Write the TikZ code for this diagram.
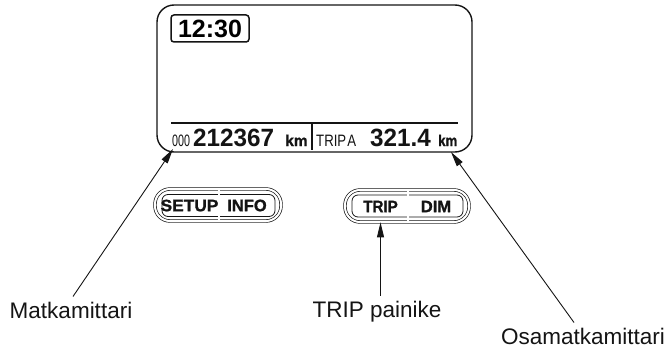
\documentclass[tikz,border=0pt]{standalone}
\usepackage{fontspec}
\setmainfont{Liberation Sans}
\newfontfamily\keyfont[FakeBold=1.2]{Liberation Sans Bold}
\usetikzlibrary{arrows.meta}
\definecolor{PanelInk}{HTML}{141414}
\newcommand\squeeze[2]{\scalebox{#1}[1]{#2}}

\tikzset{
  screen/.style={draw=PanelInk,line width=1.4pt,rounded corners=17pt,
    minimum width=315pt,minimum height=147pt},
  clockbox/.style={draw=PanelInk,line width=1.5pt,rounded corners=3pt,
    minimum width=78pt,minimum height=27pt,inner sep=0pt,
    font=\bfseries\fontsize{25}{25}\selectfont},
  lcdsmall/.style={anchor=base west,inner sep=0pt,text=PanelInk,
    font=\fontsize{16.5}{17}\selectfont},
  lcdbig/.style={anchor=base west,inner sep=0pt,text=PanelInk,
    font=\bfseries\fontsize{25}{26}\selectfont},
  lcdunit/.style={anchor=base west,inner sep=0pt,text=PanelInk,
    font=\keyfont\fontsize{15.5}{16}\selectfont},
  pill/.style={draw=PanelInk,double,double distance=2pt,line width=0.7pt,
    rounded corners=15pt,minimum height=32pt,inner sep=0pt},
  pillin/.style={draw=PanelInk,line width=0.8pt,rounded corners=6pt,
    minimum height=22pt,inner sep=0pt},
  keyline/.style={draw=PanelInk,double,double distance=1.5pt,line width=0.6pt},
  keytext/.style={inner sep=0pt,text=PanelInk,font=\keyfont\fontsize{16.5}{17}\selectfont},
  callout/.style={text=PanelInk,inner sep=5pt,anchor=base,
    font=\fontsize{22.5}{27}\selectfont},
  pointer/.style={draw=PanelInk,line width=0.9pt,-{Triangle[length=15pt,width=7pt]}}
}

\begin{document}
\begin{tikzpicture}[x=1pt,y=-1pt]
  \useasboundingbox (0,0) rectangle (668,350);

  % display
  \node[screen] (screen) at (314.5,78.5) {};
  \node[clockbox] (clock) at (210,28.5) {12:30};
  \draw[PanelInk,line width=2.2pt] (171,123) -- (458,123);
  \draw[PanelInk,line width=2.2pt] (312,123) -- (312,150);
  \node[lcdsmall] (odozero) at (172,146) {\squeeze{0.65}{000}};
  \node[lcdbig] (odonum) at (193,146) {\squeeze{0.97}{212367}};
  \node[lcdunit] (odokm) at (285,146) {km};
  \node[lcdsmall] (tripa) at (316,146) {\squeeze{0.8}{TRIP\kern1.5pt A}};
  \node[lcdbig] (tripnum) at (370,146) {\squeeze{0.97}{321.4}};
  \node[lcdunit] (tripkm) at (438,146) {\squeeze{0.85}{km}};
  \coordinate (odotip) at (173,149);
  \coordinate (triptip) at (451,152);

  % buttons
  \node[pill,minimum width=126pt] (setupinfo) at (218,205) {};
  \node[pillin,minimum width=113pt] at (218.5,205.5) {};
  \draw[keyline] (219,189) -- (219,221);
  \node[keytext] (setup) at (189.5,205.5) {\squeeze{1.05}{SETUP}};
  \node[keytext] (info) at (247,205.5) {INFO};

  \node[pill,minimum width=124pt] (tripdim) at (407,206) {};
  \node[pillin,minimum width=111pt] at (407.5,206) {};
  \draw[keyline] (408,190) -- (408,222);
  \node[keytext] (trip) at (380.5,206.5) {\squeeze{0.92}{TRIP}};
  \node[keytext] (dim) at (436,206.5) {DIM};

  % callouts
  \node[callout] (matka) at (71,318) {Matkamittari};
  \node[callout] (tripbtn) at (377,317) {TRIP painike};
  \node[callout] (osamatka) at (583,344) {Osamatkamittari};
  \draw[pointer] ([xshift=2pt]matka.north) -- (odotip);
  \draw[pointer] (tripbtn.north -| trip) -- (trip |- tripdim.south);
  \draw[pointer] ([xshift=-9pt]osamatka.north) -- (triptip);
\end{tikzpicture}
\end{document}
